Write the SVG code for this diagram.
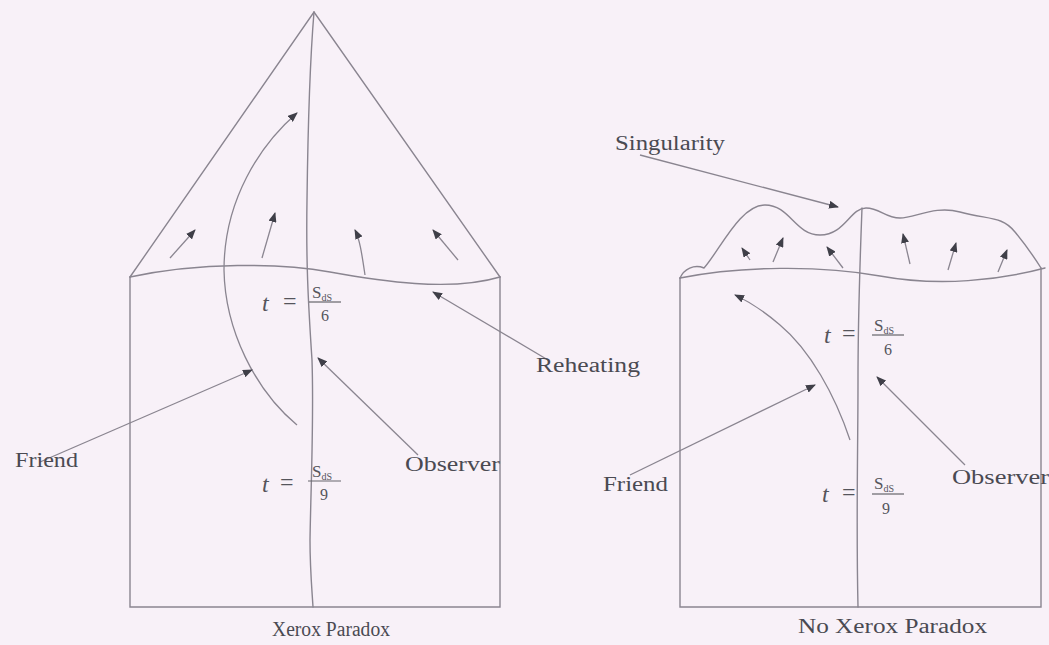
<svg xmlns="http://www.w3.org/2000/svg" width="1049" height="645" viewBox="0 0 1049 645">
<defs>
<style>
.ln{fill:none;stroke:#8a8590;stroke-width:1.4;stroke-linecap:round}
.ar{fill:none;stroke:#8a8590;stroke-width:1.3;marker-end:url(#ah)}
.lb{font-family:"Liberation Serif",serif;font-size:20px;fill:#4a4a52}
.mt{font-family:"Liberation Serif",serif;fill:#55555c}
.it{font-style:italic}
.bar{stroke:#66666c;stroke-width:1.2}
</style>
<marker id="ah" viewBox="0 0 10 8" refX="9" refY="4" markerWidth="10" markerHeight="8" markerUnits="userSpaceOnUse" orient="auto">
<path d="M0,0 L10,4 L0,8 Z" fill="#3f3f48"/>
</marker>
</defs>
<rect width="1049" height="645" fill="#f8f1f8"/>

<g id="left-diagram">
<path class="ln" d="M130,277 L314,12 L500,277"/>
<path class="ln" d="M130,277 L130,607 L500,607 L500,277"/>
<path class="ln" d="M130,277 C200,262 280,263 330,272 S450,292 500,277"/>
<path class="ln" d="M314,12 C310,60 308,120 307,200 C306,260 308,300 312,360 C314,420 311,480 310,540 C310,570 312,590 313,607"/>
</g>

<g id="left-friend-worldline">
<path class="ar" d="M297,425 C255,390 225,330 224,270 C224,200 260,145 297,113"/>
</g>

<g id="left-small-arrows">
<path class="ar" d="M170,258 L195,230"/>
<path class="ar" d="M262,258 L275,213"/>
<path class="ar" d="M365,275 C362,255 360,240 355,230"/>
<path class="ar" d="M458,260 L433,230"/>
</g>

<g id="right-diagram">
<path class="ln" d="M680,278 L680,607 L1041,607 L1041,268"/>
<path class="ln" d="M680,278 C740,266 820,265 880,276 S1000,280 1045,268"/>
<path class="ln" d="M680,278 C684,269 694,264 704,268 C720,250 740,205 765,205 C790,205 795,235 820,235 C845,235 850,208 866,208 C880,208 885,218 900,218 C915,218 935,205 960,212 C990,220 1002,216 1015,232 C1028,248 1036,260 1041,268"/>
<path class="ln" d="M862,208 C860,260 858,320 858,380 C858,450 856,520 858,607"/>
</g>

<g id="right-friend-worldline">
<path class="ar" d="M850,440 C835,395 810,350 780,325 C765,312 750,302 735,295"/>
</g>

<g id="right-small-arrows">
<path class="ar" d="M750,260 L742,248"/>
<path class="ar" d="M773,262 L783,238"/>
<path class="ar" d="M843,268 L827,247"/>
<path class="ar" d="M910,264 L903,234"/>
<path class="ar" d="M948,270 L956,243"/>
<path class="ar" d="M998,272 L1007,250"/>
</g>

<g id="connectors">
<path class="ar" d="M40,462 L252,370"/>
<path class="ar" d="M418,455 L318,358"/>
<path class="ar" d="M548,360 L433,292"/>
<path class="ar" d="M640,155 L838,207"/>
<path class="ar" d="M630,475 L815,385"/>
<path class="ar" d="M965,465 L877,377"/>
</g>

<g id="label-friend-left"><text class="lb" x="15" y="467" textLength="63" lengthAdjust="spacingAndGlyphs">Friend</text></g>
<g id="label-observer-left"><text class="lb" x="405" y="471" textLength="95" lengthAdjust="spacingAndGlyphs">Observer</text></g>
<g id="label-reheating"><text class="lb" x="536" y="372" textLength="104" lengthAdjust="spacingAndGlyphs">Reheating</text></g>
<g id="label-singularity"><text class="lb" x="615" y="150" textLength="110" lengthAdjust="spacingAndGlyphs">Singularity</text></g>
<g id="label-friend-right"><text class="lb" x="603" y="491" textLength="65" lengthAdjust="spacingAndGlyphs">Friend</text></g>
<g id="label-observer-right"><text class="lb" x="952" y="484" textLength="97" lengthAdjust="spacingAndGlyphs">Observer</text></g>
<g id="caption-left"><text class="lb" x="272" y="636" textLength="118" lengthAdjust="spacingAndGlyphs">Xerox Paradox</text></g>
<g id="caption-right"><text class="lb" x="798" y="633" textLength="189" lengthAdjust="spacingAndGlyphs">No Xerox Paradox</text></g>

<g id="math-left-6">
<text class="mt it" x="262" y="311" font-size="24">t</text>
<text class="mt" x="283" y="309" font-size="24">=</text>
<text class="mt" x="312" y="298" font-size="17">S<tspan font-size="10" dy="3">dS</tspan></text>
<line class="bar" x1="309" y1="302" x2="341" y2="302"/>
<text class="mt" x="321" y="321" font-size="16">6</text>
</g>
<g id="math-left-9">
<text class="mt it" x="262" y="492" font-size="24">t</text>
<text class="mt" x="280" y="490" font-size="24">=</text>
<text class="mt" x="312" y="477" font-size="17">S<tspan font-size="10" dy="3">dS</tspan></text>
<line class="bar" x1="308" y1="481" x2="341" y2="481"/>
<text class="mt" x="320" y="500" font-size="16">9</text>
</g>
<g id="math-right-6">
<text class="mt it" x="824" y="343" font-size="24">t</text>
<text class="mt" x="842" y="341" font-size="24">=</text>
<text class="mt" x="874" y="331" font-size="17">S<tspan font-size="10" dy="3">dS</tspan></text>
<line class="bar" x1="872" y1="335" x2="904" y2="335"/>
<text class="mt" x="884" y="355" font-size="16">6</text>
</g>
<g id="math-right-9">
<text class="mt it" x="822" y="502" font-size="24">t</text>
<text class="mt" x="842" y="500" font-size="24">=</text>
<text class="mt" x="874" y="489" font-size="17">S<tspan font-size="10" dy="3">dS</tspan></text>
<line class="bar" x1="872" y1="494" x2="904" y2="494"/>
<text class="mt" x="882" y="514" font-size="16">9</text>
</g>
</svg>
